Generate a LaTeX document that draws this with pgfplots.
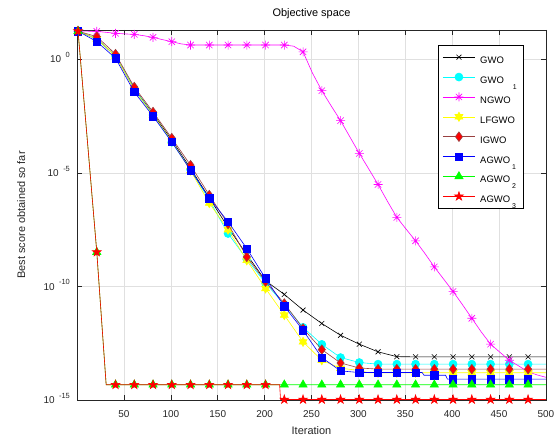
\documentclass[border=0pt]{standalone}
\usepackage{fontspec}
\setmainfont{Liberation Sans}
\usepackage{pgfplots}
\usepackage{pgfplotstable}
\pgfplotsset{compat=1.18}
\usetikzlibrary{plotmarks}

\definecolor{mcyan}{rgb}{0,1,1}
\definecolor{mmag}{rgb}{1,0,1}
\definecolor{myel}{rgb}{1,1,0}
\definecolor{mgreen}{rgb}{0,1,0}
\definecolor{mred}{rgb}{1,0,0}
\definecolor{mblue}{rgb}{0,0,1}
\definecolor{igwoline}{rgb}{0.6,0.25,0.25}
\definecolor{gridc}{rgb}{0.88,0.88,0.88}
\definecolor{axc}{rgb}{0.15,0.15,0.15}

\pgfdeclareplotmark{pent}{%
  \pgfpathmoveto{\pgfpointpolar{90}{\pgfplotmarksize}}%
  \pgfpathlineto{\pgfpointpolar{126}{0.382*\pgfplotmarksize}}%
  \pgfpathlineto{\pgfpointpolar{162}{\pgfplotmarksize}}%
  \pgfpathlineto{\pgfpointpolar{198}{0.382*\pgfplotmarksize}}%
  \pgfpathlineto{\pgfpointpolar{234}{\pgfplotmarksize}}%
  \pgfpathlineto{\pgfpointpolar{270}{0.382*\pgfplotmarksize}}%
  \pgfpathlineto{\pgfpointpolar{306}{\pgfplotmarksize}}%
  \pgfpathlineto{\pgfpointpolar{342}{0.382*\pgfplotmarksize}}%
  \pgfpathlineto{\pgfpointpolar{18}{\pgfplotmarksize}}%
  \pgfpathlineto{\pgfpointpolar{54}{0.382*\pgfplotmarksize}}%
  \pgfpathclose\pgfusepathqfillstroke}
\pgfdeclareplotmark{hexa}{%
  \pgfpathmoveto{\pgfpointpolar{90}{\pgfplotmarksize}}%
  \pgfpathlineto{\pgfpointpolar{120}{0.577*\pgfplotmarksize}}%
  \pgfpathlineto{\pgfpointpolar{150}{\pgfplotmarksize}}%
  \pgfpathlineto{\pgfpointpolar{180}{0.577*\pgfplotmarksize}}%
  \pgfpathlineto{\pgfpointpolar{210}{\pgfplotmarksize}}%
  \pgfpathlineto{\pgfpointpolar{240}{0.577*\pgfplotmarksize}}%
  \pgfpathlineto{\pgfpointpolar{270}{\pgfplotmarksize}}%
  \pgfpathlineto{\pgfpointpolar{300}{0.577*\pgfplotmarksize}}%
  \pgfpathlineto{\pgfpointpolar{330}{\pgfplotmarksize}}%
  \pgfpathlineto{\pgfpointpolar{0}{0.577*\pgfplotmarksize}}%
  \pgfpathlineto{\pgfpointpolar{30}{\pgfplotmarksize}}%
  \pgfpathlineto{\pgfpointpolar{60}{0.577*\pgfplotmarksize}}%
  \pgfpathclose\pgfusepathqfillstroke}
\pgfdeclareplotmark{mstar}{%
  \pgfpathmoveto{\pgfqpoint{-\pgfplotmarksize}{0pt}}\pgfpathlineto{\pgfqpoint{\pgfplotmarksize}{0pt}}%
  \pgfpathmoveto{\pgfqpoint{0pt}{-\pgfplotmarksize}}\pgfpathlineto{\pgfqpoint{0pt}{\pgfplotmarksize}}%
  \pgfpathmoveto{\pgfpointpolar{45}{\pgfplotmarksize}}\pgfpathlineto{\pgfpointpolar{225}{\pgfplotmarksize}}%
  \pgfpathmoveto{\pgfpointpolar{135}{\pgfplotmarksize}}\pgfpathlineto{\pgfpointpolar{315}{\pgfplotmarksize}}%
  \pgfusepathqstroke}

\pgfplotsset{
  sGWO/.style={color=black, line width=0.6bp, mark=x, mark size=3.5bp, mark options={solid, line width=0.6bp}},
  sGWOa/.style={color=mcyan, line width=0.6bp, mark=*, mark size=4.0bp, mark options={draw=mcyan, fill=mcyan}},
  sNGWO/.style={color=mmag, line width=0.6bp, mark=mstar, mark size=4.5bp, mark options={draw=mmag, line width=0.6bp}},
  sLF/.style={color=myel, line width=0.6bp, mark=hexa, mark size=4.6bp, mark options={draw=myel, fill=myel}},
  sIG/.style={color=igwoline, line width=0.6bp, mark=diamond*, mark size=4.8bp, mark options={draw=igwoline, fill=mred}},
  sAa/.style={color=mblue, line width=0.6bp, mark=square*, mark size=3.7bp, mark options={draw=mblue, fill=mblue}},
  sAb/.style={color=mgreen, line width=0.6bp, mark=triangle*, mark size=4.8bp, mark options={draw=mgreen, fill=mgreen}},
  sAc/.style={color=mred, line width=0.6bp, mark=pent, mark size=4.6bp, mark options={draw=mred, fill=mred}},
  lineonly/.style={mark phase=100000},
  marksonly/.style={only marks, forget plot, restrict expr to domain={\thisrow{m}}{0.5:1.5}},
}

\pgfplotstableread{
it v m
1 17.4 1
21 7.94 1
41 1.41 1
61 5.0e-2 1
81 3.98e-3 1
101 2.82e-4 1
121 1.58e-5 1
141 7.94e-7 1
161 3.98e-8 1
181 2.51e-9 1
201 1.78e-10 1
221 4.47e-11 1
241 9.12e-12 1
261 2.34e-12 1
281 7.08e-13 1
301 2.88e-13 1
321 1.32e-13 1
341 8.1e-14 1
361 7.94e-14 1
381 7.94e-14 1
401 7.94e-14 1
421 7.94e-14 1
441 7.94e-14 1
461 7.94e-14 1
481 7.94e-14 1
500 7.94e-14 0
}\tGWO

\pgfplotstableread{
it v m
1 17.4 1
21 7.94 1
41 1.41 1
61 5.0e-2 1
81 3.55e-3 1
101 2.24e-4 1
121 1.41e-5 1
141 6.31e-7 1
161 2.14e-8 1
181 1.58e-9 1
201 1.41e-10 1
221 1.58e-11 1
241 1.58e-12 1
261 2.82e-13 1
281 7.41e-14 1
301 4.47e-14 1
321 3.80e-14 1
341 3.80e-14 1
361 3.80e-14 1
381 3.80e-14 1
401 3.80e-14 1
421 3.80e-14 1
441 3.80e-14 1
461 3.80e-14 1
481 3.80e-14 1
500 3.80e-14 0
}\tGWOa

\pgfplotstableread{
it v m
1 17.4 1
11 17.4 0
21 17.0 1
31 15.5 0
41 14.0 1
51 13.2 0
61 12.6 1
71 11.0 0
81 9.3 1
91 7.4 0
101 6.0 1
111 4.8 0
121 4.27 1
141 4.27 1
161 4.27 1
181 4.27 1
201 4.27 1
221 4.27 1
231 3.8 0
241 2.14 1
251 0.25 0
261 4.17e-2 1
271 8.9e-3 0
281 2.0e-3 1
291 3.8e-4 0
301 7.24e-5 1
311 1.51e-5 0
321 3.09e-6 1
331 5.62e-7 0
341 1.10e-7 1
351 3.31e-8 0
361 1.02e-8 1
371 2.82e-9 0
381 7.24e-10 1
391 2.09e-10 0
401 6.03e-11 1
411 1.58e-11 0
421 3.98e-12 1
431 1.0e-12 0
441 2.88e-13 1
451 1.26e-13 0
461 5.62e-14 1
471 3.16e-14 0
481 1.74e-14 1
491 1.26e-14 0
500 1.0e-14 0
}\tNGWO

\pgfplotstableread{
it v m
1 17.4 1
21 7.94 1
41 1.41 1
61 4.47e-2 1
81 3.55e-3 1
101 2.51e-4 1
121 1.26e-5 1
141 4.68e-7 1
161 3.16e-8 1
181 1.41e-9 1
201 8.13e-11 1
221 5.5e-12 1
241 3.63e-13 1
261 5.62e-14 1
281 2.51e-14 1
301 2.0e-14 1
311 1.58e-14 0
321 1.58e-14 1
341 1.58e-14 1
361 1.58e-14 1
381 1.58e-14 1
401 1.58e-14 1
421 1.58e-14 1
441 1.58e-14 1
461 1.58e-14 1
481 1.58e-14 1
500 1.58e-14 0
}\tLF

\pgfplotstableread{
it v m
1 17.4 1
21 10.0 1
41 1.70 1
61 6.03e-2 1
81 4.79e-3 1
101 3.39e-4 1
121 2.19e-5 1
141 1.05e-6 1
161 5.62e-8 1
181 2.0e-9 1
201 1.62e-10 1
221 1.78e-11 1
241 1.41e-12 1
261 1.66e-13 1
281 4.27e-14 1
301 2.57e-14 1
321 2.29e-14 1
341 2.29e-14 1
361 2.29e-14 1
381 2.29e-14 1
401 2.29e-14 1
421 2.29e-14 1
441 2.29e-14 1
461 2.29e-14 1
481 2.29e-14 1
500 2.29e-14 0
}\tIG

\pgfplotstableread{
it v m
1 17.4 1
21 6.03 1
41 1.12 1
61 3.63e-2 1
81 3.16e-3 1
101 2.29e-4 1
121 1.32e-5 1
141 7.76e-7 1
161 7.08e-8 1
181 4.68e-9 1
201 2.24e-10 1
221 1.35e-11 1
241 1.17e-12 1
261 7.41e-14 1
281 1.91e-14 1
301 1.62e-14 1
321 1.62e-14 1
341 1.62e-14 1
361 1.62e-14 1
368 1.62e-14 0
370 1.23e-14 0
381 1.23e-14 1
393 1.23e-14 0
395 8.3e-15 0
401 8.3e-15 1
421 8.3e-15 1
441 8.3e-15 1
461 8.3e-15 1
481 8.3e-15 1
500 8.3e-15 0
}\tAa

\pgfplotstableread{
it v m
1 17.4 1
11 2.51e-4 0
21 3.24e-9 1
31 4.68e-15 0
41 4.68e-15 1
61 4.68e-15 1
81 4.68e-15 1
101 4.68e-15 1
121 4.68e-15 1
141 4.68e-15 1
161 4.68e-15 1
181 4.68e-15 1
201 4.68e-15 1
221 4.68e-15 1
241 4.68e-15 1
261 4.68e-15 1
281 4.68e-15 1
301 4.68e-15 1
321 4.68e-15 1
341 4.68e-15 1
361 4.68e-15 1
381 4.68e-15 1
401 4.68e-15 1
421 4.68e-15 1
441 4.68e-15 1
461 4.68e-15 1
481 4.68e-15 1
500 4.68e-15 0
}\tAb

\pgfplotstableread{
it v m
1 17.4 1
11 2.51e-4 0
21 3.24e-9 1
31 4.68e-15 0
41 4.68e-15 1
61 4.68e-15 1
81 4.68e-15 1
101 4.68e-15 1
121 4.68e-15 1
141 4.68e-15 1
161 4.68e-15 1
181 4.68e-15 1
201 4.68e-15 1
216 4.68e-15 0
217 1.05e-15 0
221 1.05e-15 1
241 1.05e-15 1
261 1.05e-15 1
281 1.05e-15 1
301 1.05e-15 1
321 1.05e-15 1
341 1.05e-15 1
361 1.05e-15 1
381 1.05e-15 1
401 1.05e-15 1
421 1.05e-15 1
441 1.05e-15 1
461 1.05e-15 1
481 1.05e-15 1
500 1.05e-15 0
}\tAc

\newcommand{\tenexp}[1]{10\hspace{4.5bp}\raisebox{5.5bp}{\fontsize{7.5}{8}\selectfont #1}}
\newcommand{\lstrut}{\rule[-6bp]{0pt}{20.4bp}}
\newcommand{\subone}[3]{\lstrut#1\hspace{#2}\smash{\raisebox{-6bp}{\fontsize{7}{7}\selectfont #3}}}

\begin{document}
\begin{tikzpicture}
\useasboundingbox (-77.1bp,-43bp) rectangle (476.9bp,400bp);
\begin{axis}[
  at={(0,0)}, anchor=south west,
  scale only axis, width=468.8bp, height=370.2bp,
  ymode=log, xmin=0, xmax=500, ymin=1e-15, ymax=20,
  xtick={50,100,...,500},
  ytick={1e-15,1e-10,1e-5,1},
  yticklabels={\tenexp{-15},\tenexp{-10},\tenexp{-5},\tenexp{0}},
  yminorticks=false,
  tick align=inside, tick pos=both, major tick length=5bp,
  grid=major, major grid style={gridc, line width=0.5bp},
  axis line style={axc, line width=0.5bp},
  tick style={axc, line width=0.5bp},
  ticklabel style={axc, font=\fontsize{10}{12}\selectfont, inner sep=0pt},
  xticklabel style={/pgf/number format/assume math mode=true, anchor=base, yshift=-17bp},
  yticklabel style={anchor=base east, xshift=-7bp, yshift=-3.6bp},
  title={Objective space},
  title style={at={(axis description cs:0.5,1.0211)}, anchor=base, yshift=0pt, font=\fontsize{11}{13}\selectfont, inner sep=0pt},
  xlabel={Iteration},
  xlabel style={at={(axis description cs:0.5,-0.0945)}, anchor=base, font=\fontsize{11}{13}\selectfont, text=axc, inner sep=0pt},
  ylabel={Best score obtained so far},
  ylabel style={at={(axis description cs:-0.111,0.5)}, anchor=base, font=\fontsize{11}{13}\selectfont, text=axc, inner sep=0pt},
  clip mode=individual,
  legend cell align=left,
  legend style={at={(0.9512,0.9590)}, anchor=north east, draw=black, line width=0.5bp, fill=white,
    font=\fontsize{9.5}{10}\selectfont, inner xsep=4bp, inner ysep=2bp, row sep=0pt, column sep=3bp},
  legend image code/.code={\draw[#1,mark repeat=2,mark phase=2] plot coordinates {(0bp,0bp) (16bp,0bp) (32bp,0bp)};},
]
\addplot[sGWO, lineonly] table[x=it,y=v]{\tGWO};
\addlegendentry{\lstrut GWO}
\addplot[sGWO, marksonly] table[x=it,y=v]{\tGWO};
\addplot[sGWOa, lineonly] table[x=it,y=v]{\tGWOa};
\addlegendentry{\subone{GWO}{9bp}{1}}
\addplot[sGWOa, marksonly] table[x=it,y=v]{\tGWOa};
\addplot[sNGWO, lineonly] table[x=it,y=v]{\tNGWO};
\addlegendentry{\lstrut NGWO}
\addplot[sNGWO, marksonly] table[x=it,y=v]{\tNGWO};
\addplot[sLF, lineonly] table[x=it,y=v]{\tLF};
\addlegendentry{\lstrut LFGWO}
\addplot[sLF, marksonly] table[x=it,y=v]{\tLF};
\addplot[sIG, lineonly] table[x=it,y=v]{\tIG};
\addlegendentry{\lstrut IGWO}
\addplot[sIG, marksonly] table[x=it,y=v]{\tIG};
\addplot[sAa, lineonly] table[x=it,y=v]{\tAa};
\addlegendentry{\subone{AGWO}{2bp}{1}}
\addplot[sAa, marksonly] table[x=it,y=v]{\tAa};
\addplot[sAb, lineonly] table[x=it,y=v]{\tAb};
\addlegendentry{\subone{AGWO}{2bp}{2}}
\addplot[sAb, marksonly] table[x=it,y=v]{\tAb};
\addplot[sAc, lineonly] table[x=it,y=v]{\tAc};
\addlegendentry{\subone{AGWO}{2bp}{3}}
\addplot[sAc, marksonly] table[x=it,y=v]{\tAc};
\end{axis}
\end{tikzpicture}
\end{document}
